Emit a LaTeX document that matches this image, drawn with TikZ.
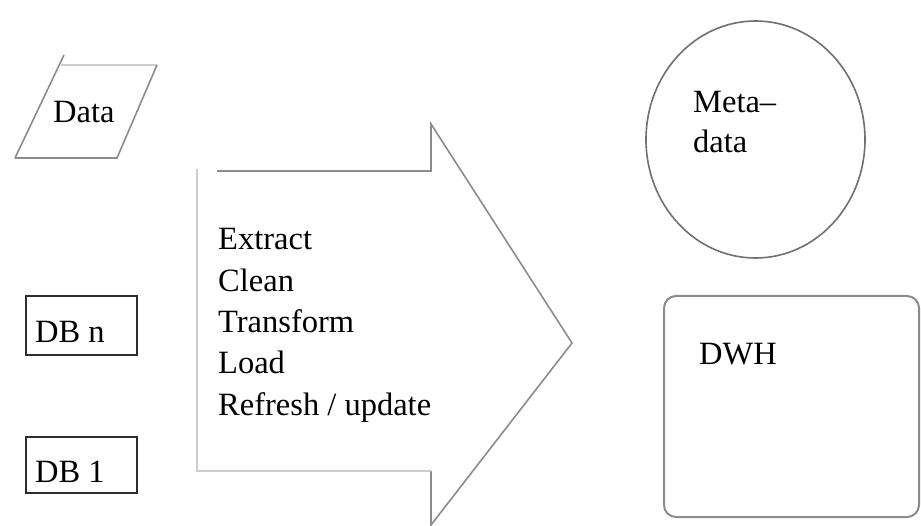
\documentclass[tikz,border=0pt]{standalone}
\usepackage{fontspec}
\setmainfont{Liberation Serif}
\definecolor{edgegray}{RGB}{140,140,140}
\definecolor{palegray}{RGB}{205,205,205}
\definecolor{boxdark}{RGB}{45,45,45}
\begin{document}
\begin{tikzpicture}[x=1pt,y=-1pt,
  lbl/.style={inner sep=0pt,anchor=base west,font=\fontsize{32.5}{41.3}\selectfont,align=left},
  dbbox/.style={draw=boxdark,line width=2.4pt},
  thinline/.style={draw=edgegray,line width=1.6pt}]
\useasboundingbox[fill=white] (0,0) rectangle (921,526);

% input data (parallelogram)
\draw[draw=palegray,line width=2.4pt] (61,65) -- (157,65);
\draw[draw=edgegray,line width=1.6pt] (15,158) -- (64,55);
\draw[thinline] (157,65) -- (117,158) -- (15,158);
\node[lbl] (data) at (53,123) {Data};

% source databases
\draw[dbbox] (26,296) rectangle (137,355);
\node[lbl] (dbn) at (35,343) {DB n};
\draw[dbbox] (26,437) rectangle (137,493);
\node[lbl] (db1) at (35,482) {DB 1};

% ETL block arrow
\coordinate (tl) at (217,171);
\coordinate (hu) at (431,171);
\coordinate (ht) at (431,124);
\coordinate (tip) at (572,343);
\coordinate (hb) at (431,525);
\coordinate (hl) at (431,471);
\coordinate (bl) at (197,471);
\coordinate (lt) at (197,169);
\draw[thinline,line join=miter] (tl) -- (hu) -- (ht) -- (tip) -- (hb) -- (hl);
\draw[draw=palegray,line width=2.8pt] (hl) -- (bl) -- (lt);
% the multi-line labels sit on the baseline of their last line
\node[lbl] (etl) at (218,415.2) {Extract\\Clean\\Transform\\Load\\Refresh / update};

% metadata
\draw[draw=edgegray!80!black,line width=1.6pt] (755.5,139.5) ellipse [x radius=109.5,y radius=118.5];
\node[lbl,font=\fontsize{32.5}{40}\selectfont] (meta) at (693,153) {Meta–\\data};

% data warehouse
\draw[draw=edgegray,line width=2pt,rounded corners=12pt] (664,296) rectangle (919,517);
\node[lbl] (dwh) at (699,365) {DWH};
\end{tikzpicture}
\end{document}
